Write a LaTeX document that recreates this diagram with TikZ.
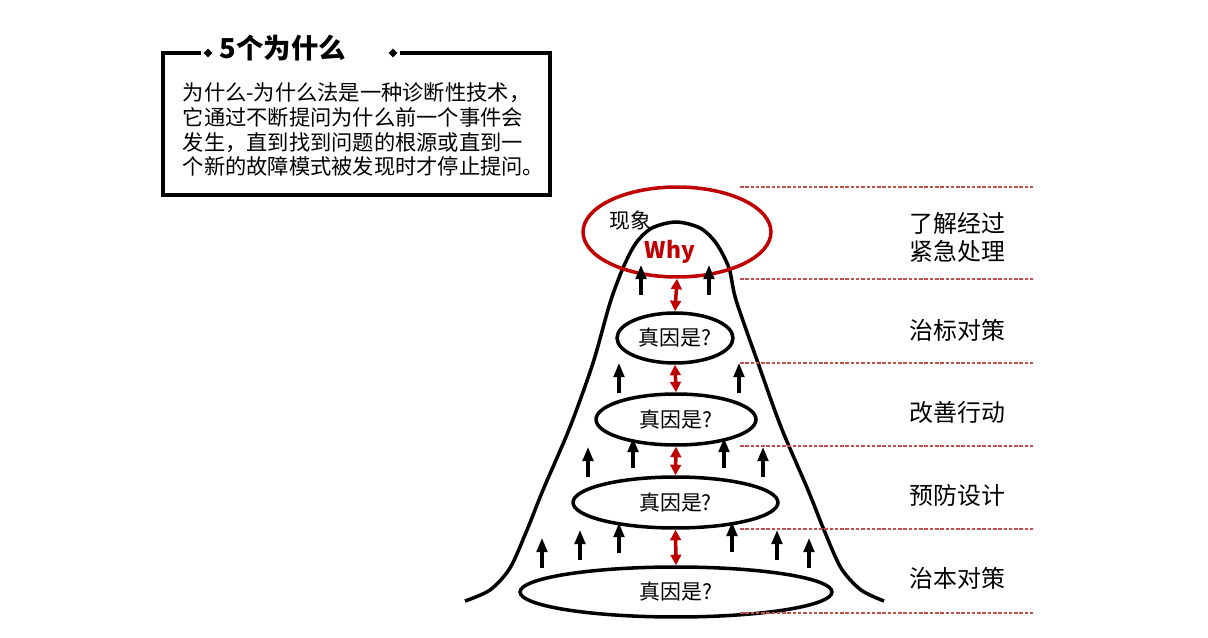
\documentclass[tikz,border=0pt]{standalone}
\usepackage{fontspec}
\setmainfont{Noto Sans CJK SC}
\usetikzlibrary{arrows.meta, positioning, shapes.geometric}
\definecolor{cred}{HTML}{C00000}
\definecolor{cdash}{HTML}{C0504D}
\tikzset{
  every picture/.style={line width=2pt},
  cause/.style 2 args={ellipse, draw, inner sep=0pt, minimum width=#1*0.04cm, minimum height=#2*0.04cm, font=\fontsize{11.9}{14}\selectfont},
  up/.style={-{Triangle[length=8pt, width=6pt]}, line width=1.8pt},
  dbl/.style={{Triangle[length=6pt, width=6pt]}-{Triangle[length=6pt, width=6pt]}, draw=cred, line width=2pt},
  level/.style={draw=cdash, line width=0.6pt, dash pattern=on 2pt off 1pt},
  tag/.style={anchor=west, inner sep=0pt, align=left, font=\fontsize{13.6}{16.4}\selectfont},
  dot/.style={diamond, fill, inner sep=0pt, minimum size=0.2cm},
}

\begin{document}
\begin{tikzpicture}[x=0.02cm, y=-0.02cm]
  \fill[white] (0,0) rectangle (1208,638);
  \useasboundingbox (0,0) rectangle (1208,638);
  % definition box
  \node[dot] (dl) at (208,53) {};
  \node[dot] (dr) at (393,53) {};
  \node[font=\fontsize{15.6}{18}\selectfont\bfseries] (title) at (283,48) {5个为什么};
  \draw[line join=miter] (dl) -- (163,53) |- (550,195) -- (550,53) -- (dr);
  \node[anchor=west, inner sep=0pt, align=left, font=\fontsize{12.1}{14.2}\selectfont] (def) at (181,129.5)
    {为什么-为什么法是一种诊断性技术，\\它通过不断提问为什么前一个事件会\\发生，直到找到问题的根源或直到一\\个新的故障模式被发现时才停止提问。};
  % mountain
  \draw[line join=round] plot[smooth, tension=0.5] coordinates {(465,601) (490,590) (510,568) (527,530) (543,490) (570,427) (593,363) (610,303) (623,268) (636,243) (652,228) (676,222) (700,228) (716,243) (729,268) (736,300) (758,363) (781,427) (808,490) (824,530) (841,568) (861,590) (884,601)};
  \node[ellipse, draw=cred, minimum width=3.76cm, minimum height=1.8cm, inner sep=0pt] (phen) at (677,232) {};
  \node[font=\fontsize{11.9}{14}\selectfont] (obs) at (630,221) {现象};
  \node[font=\fontsize{13}{15}\selectfont\bfseries, text=cred] (why) at (670,252) {Why};
  \node[cause={58}{25}] (c1) at (675,338) {真因是?};
  \node[cause={80}{25.5}] (c2) at (676,419.5) {真因是?};
  \node[cause={102.5}{25.5}] (c3) at (675.5,502.5) {真因是?};
  \node[cause={156}{25}] (c4) at (676,592) {真因是?};
  \foreach \a/\b in {phen/c1, c1/c2, c2/c3, c3/c4} \draw[dbl] (\a.south) -- (\b.north);
  \foreach \x/\y in {641/295, 709/295, 619/393, 739/393, 588/477, 633/468, 724/468, 763/477,
    542/568, 580/560, 619/553, 732/552, 777/560, 809/568} \draw[up] (\x,\y) -- ++(0,-30);
  % levels
  \foreach \y in {187, 279, 363, 446, 529, 613} \draw[level] (740,\y) -- (1034,\y);
  \node[tag] (t1) at (908,237.5) {了解经过\\紧急处理};
  \node[tag] (t2) at (908,330) {治标对策};
  \node[tag] (t3) at (908,412) {改善行动};
  \node[tag] (t4) at (908,495) {预防设计};
  \node[tag] (t5) at (908,578) {治本对策};
\end{tikzpicture}
\end{document}
